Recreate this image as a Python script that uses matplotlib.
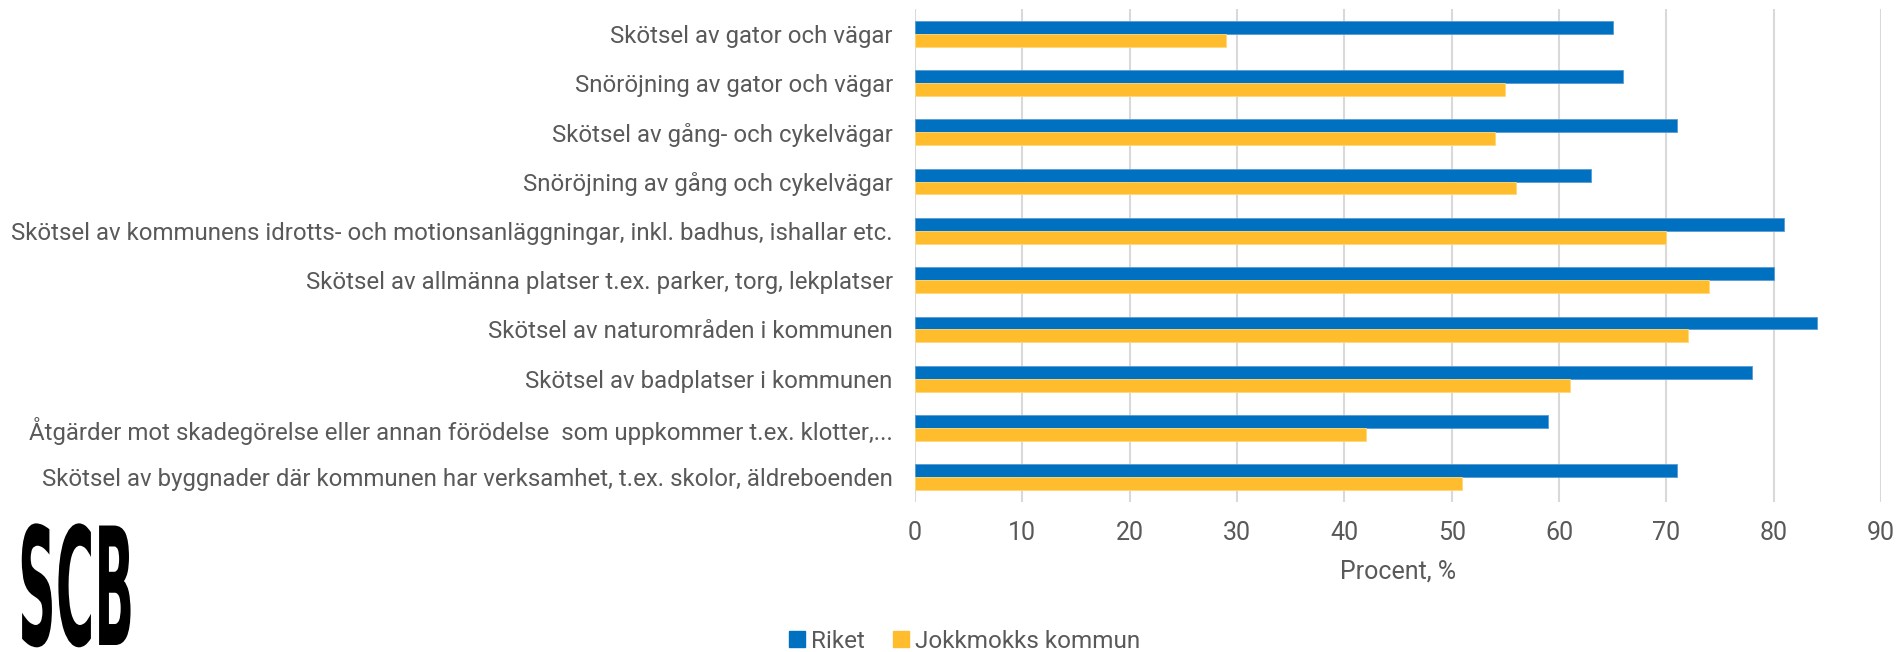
import matplotlib
matplotlib.use("Agg")
import matplotlib.pyplot as plt
from matplotlib.patheffects import AbstractPathEffect
from matplotlib.transforms import Affine2D
from matplotlib.lines import Line2D
import numpy as np

plt.rcParams['font.family'] = ['Roboto', 'DejaVu Sans']

categories = [
    "Skötsel av gator och vägar",
    "Snöröjning av gator och vägar",
    "Skötsel av gång- och cykelvägar",
    "Snöröjning av gång och cykelvägar",
    "Skötsel av kommunens idrotts- och motionsanläggningar, inkl. badhus, ishallar etc.",
    "Skötsel av allmänna platser t.ex. parker, torg, lekplatser",
    "Skötsel av naturområden i kommunen",
    "Skötsel av badplatser i kommunen",
    "Åtgärder mot skadegörelse eller annan förödelse  som uppkommer t.ex. klotter,...",
    "Skötsel av byggnader där kommunen har verksamhet, t.ex. skolor, äldreboenden",
]
riket = [65, 66, 71, 63, 81, 80, 84, 78, 59, 71]
jokkmokk = [29, 55, 54, 56, 70, 74, 72, 61, 42, 51]
series_names = ["Riket", "Jokkmokks kommun"]
xticks = [0, 10, 20, 30, 40, 50, 60, 70, 80, 90]

BLUE = "#0070C0"
ORANGE = "#FFBD2E"
TXT = "#595959"
GRID = "#D9D9D9"

W, H = 1901, 652
fig = plt.figure(figsize=(W / 100, H / 100), dpi=100)
ax = fig.add_axes([915 / W, 1 - 502 / H, (1881 - 915) / W, (502 - 9) / H])

y = np.arange(len(categories))
h = 0.262
ax.barh(y - h / 2, riket, height=h, color=BLUE, edgecolor="#5B9BD5", linewidth=0.6, zorder=3)
ax.barh(y + h / 2, jokkmokk, height=h, color=ORANGE, edgecolor="#FFD878", linewidth=0.6, zorder=3)

ax.set_ylim(len(categories) - 0.5, -0.5)
ax.set_xlim(0, 90)
ax.set_xticks(xticks)
ax.set_xticklabels([str(t) for t in xticks])
ax.set_yticks(y)
ax.set_yticklabels(categories)
ax.tick_params(axis='y', length=0, pad=16, labelsize=17.3, labelcolor=TXT)
ax.tick_params(axis='x', length=0, pad=14, labelsize=18, labelcolor=TXT)
for s in ax.spines.values():
    s.set_visible(False)
ax.grid(axis='x', color=GRID, linewidth=1.5, zorder=0)
ax.set_axisbelow(True)
ax.set_xlabel("Procent, %", fontsize=18, color=TXT, labelpad=10)

handles = [Line2D([], [], marker='s', linestyle='none', markersize=11, color=BLUE),
           Line2D([], [], marker='s', linestyle='none', markersize=11, color=ORANGE)]
fig.legend(handles, series_names, loc='center', bbox_to_anchor=(965 / W, 1 - 641 / H),
           ncol=2, frameon=False, fontsize=17.5, labelcolor=TXT, handlelength=0.6,
           handletextpad=0.25, columnspacing=1.2)


class Squeeze(AbstractPathEffect):
    def __init__(self, sx, x0, dy):
        super().__init__()
        self.sx = sx
        self.x0 = x0
        self.dy = dy

    def draw_path(self, renderer, gc, tpath, affine, rgbFace=None):
        t = affine + Affine2D().translate(-self.x0, 0).scale(self.sx, 1).translate(self.x0, -self.dy)
        renderer.draw_path(gc, tpath, t, rgbFace)


fig.text(18 / W, 1 - 650 / H, "SCB", fontsize=118, fontweight='bold', color='black',
         ha='left', va='bottom', family=['DejaVu Sans'],
         path_effects=[Squeeze(0.32, 18, 29)])

fig.savefig("out.png", dpi=100)
